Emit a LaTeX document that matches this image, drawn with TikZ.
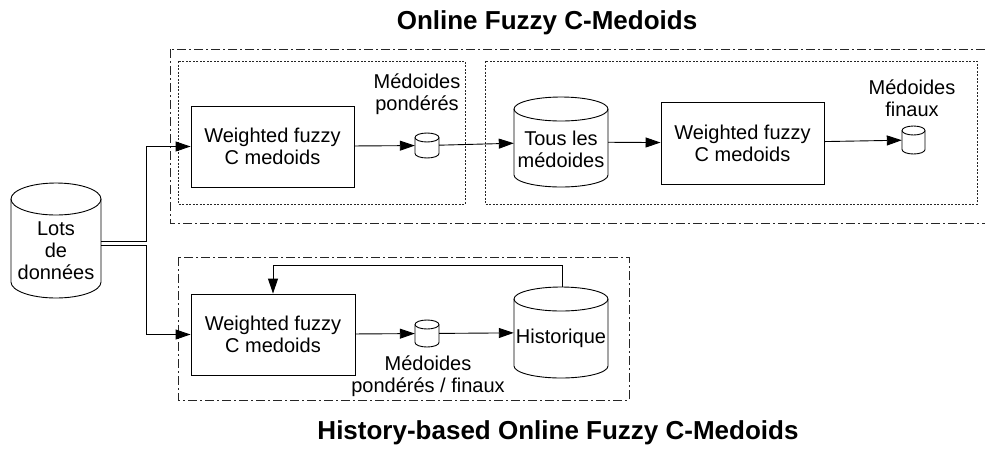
\documentclass[tikz,border=0pt]{standalone}
\usepackage{fontspec}
\setmainfont{Liberation Sans}
\usetikzlibrary{arrows.meta,calc}
\tikzset{
  box/.style={draw=black, line width=0.9pt, fill=white, inner sep=0pt, font=\fontsize{20}{22}\selectfont, align=center},
  arr/.style={line width=0.9pt, -{Triangle[length=15pt,width=10pt]}},
  line/.style={line width=0.9pt},
  lbl/.style={font=\fontsize{20}{22}\selectfont, align=center, inner sep=0pt},
  ttl/.style={font=\fontsize{26}{28}\selectfont\bfseries, inner sep=0pt, anchor=base},
  outerbox/.style={draw=black!85, line width=0.9pt, dash pattern=on 9pt off 3pt on 2pt off 3pt},
  innerbox/.style={draw=black!85, line width=0.9pt, dash pattern=on 2pt off 1.5pt},
  ghost/.style={inner sep=0pt, draw=none}
}
% cylinder outline: cx, cy, w, h, ry
\newcommand\cylshape[5]{%
  \pgfmathsetmacro\cxl{#1-#3/2}\pgfmathsetmacro\cxr{#1+#3/2}%
  \pgfmathsetmacro\cyt{#2+#4/2-#5}\pgfmathsetmacro\cyb{#2-#4/2+#5}%
  \pgfmathsetmacro\crx{#3/2}%
  \draw[line, fill=white] (\cxl,\cyt) -- (\cxl,\cyb) arc[start angle=180,end angle=360,x radius=\crx,y radius=#5] -- (\cxr,\cyt) arc[start angle=0,end angle=180,x radius=\crx,y radius=#5] -- cycle;
  \draw[line] (\cxl,\cyt) arc[start angle=180,end angle=360,x radius=\crx,y radius=#5];
}
\begin{document}
\begin{tikzpicture}[x=1pt,y=1pt]
\useasboundingbox (0,0) rectangle (985,-448);
% titles
\node[ttl] (t1) at (547,-29.5) {Online Fuzzy C-Medoids};
\node[ttl] (t2) at (558,-439.5) {History-based Online Fuzzy C-Medoids};
% frames
\draw[outerbox] (170,-49) rectangle (990,-223);
\draw[innerbox] (178,-61) rectangle (465,-204);
\draw[innerbox] (485,-61) rectangle (977,-204);
\draw[outerbox] (178,-257) rectangle (629,-400);
% cylinders
\cylshape{56}{-240.5}{90}{115}{16}
\node[ghost, minimum width=90pt, minimum height=115pt] (lots) at (56,-240.5) {};
\node[lbl] (lotst) at (56,-251) {Lots\\de\\données};
\cylshape{427}{-145.5}{24}{25}{4.5}
\node[ghost, minimum width=24pt, minimum height=25pt] (c1) at (427,-145.5) {};
\cylshape{561}{-142}{94}{90}{12}
\node[ghost, minimum width=94pt, minimum height=90pt] (tous) at (561,-142) {};
\node[lbl] (toust) at (561,-149) {Tous les\\médoides};
\cylshape{913.5}{-140}{23}{28}{4.5}
\node[ghost, minimum width=23pt, minimum height=28pt] (c2) at (913.5,-140) {};
\cylshape{427}{-333.5}{24}{27}{4.5}
\node[ghost, minimum width=24pt, minimum height=27pt] (c3) at (427,-333.5) {};
\cylshape{561}{-332.5}{94}{91}{12}
\node[ghost, minimum width=94pt, minimum height=91pt] (hist) at (561,-332.5) {};
\node[lbl] (histt) at (561,-338) {Historique};
% processing boxes
\node[box, minimum width=163pt, minimum height=81pt] (w1) at (272.5,-146.5) {Weighted fuzzy\\C medoids};
\node[box, minimum width=163pt, minimum height=82pt] (w2) at (742.5,-143) {Weighted fuzzy\\C medoids};
\node[box, minimum width=164pt, minimum height=81pt] (w3) at (273,-334.5) {Weighted fuzzy\\C medoids};
% labels
\node[lbl] (l1) at (417,-94) {Médoides\\pondérés};
\node[lbl] (l2) at (912,-98) {Médoides\\finaux};
\node[lbl] (l3) at (428,-376) {Médoides\\pondérés / finaux};
% connectors
\coordinate (j1) at (146,-241);
\coordinate (j2) at (146,-245);
\draw[arr] (lots.east |- j1) -- (j1) |- (w1.west);
\draw[arr] (lots.east |- j2) -- (j2) |- (w3.west);
\draw[arr] (w1) -- (c1);
\draw[arr] (c1) -- (tous);
\draw[arr] (tous) -- (w2);
\draw[arr] (w2) -- (c2);
\draw[arr] (w3) -- (c3);
\draw[arr] (c3) -- (hist);
\coordinate (fbx) at (562,-300);
\coordinate (fb) at (273,-265);
\draw[arr] (hist.north -| fbx) |- (fb) -- (w3.north -| fb);
\end{tikzpicture}
\end{document}
